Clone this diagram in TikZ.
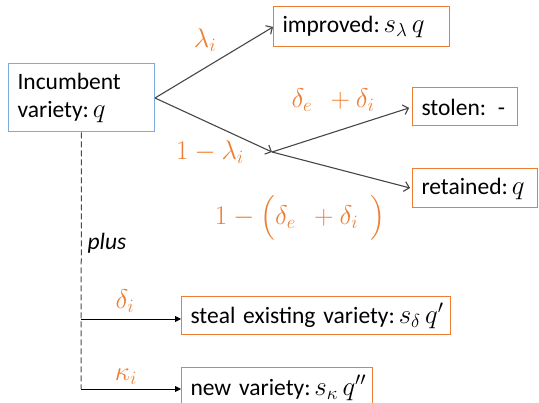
\RequirePackage{fix-cm}
\documentclass[tikz,border=0pt]{standalone}
\usepackage{amsmath}
\usepackage{fontspec}
\setmainfont{Carlito}
\usetikzlibrary{arrows.meta}
\definecolor{boxorange}{RGB}{237,125,49}
\definecolor{boxblue}{RGB}{125,172,220}
\definecolor{arrowgray}{RGB}{70,70,70}
\newcommand{\boxmath}[1]{{\fontsize{27}{32}\selectfont$#1$}}

\begin{document}
\begin{tikzpicture}[x=1pt, y=-1pt,
  font=\fontsize{23.5}{28}\selectfont,
  varbox/.style={draw=boxorange, line width=1pt, rectangle, inner xsep=9pt, inner ysep=0pt, align=left, anchor=west},
  prob/.style={text=boxorange, inner sep=0pt, font=\fontsize{27}{32}\selectfont},
  branch/.style={arrowgray, line width=1.1pt, -{Straight Barb[length=5pt,width=10pt]}},
  newbranch/.style={black, line width=0.9pt, -{Triangle[length=6pt,width=6pt]}}]
  \useasboundingbox (0,0) rectangle (539,403);
  % boxes
  \node[varbox, draw=boxblue, text width=128pt, minimum height=68pt] (inc) at (8,98) {Incumbent\\\mbox{variety:\,\boxmath{q}}};
  \node[varbox, text width=158pt, minimum height=40pt] (imp) at (273,27) {\mbox{improved:\,\boxmath{s_\lambda\,q}}};
  \node[varbox, text width=87pt, minimum height=38pt] (stolen) at (412,107) {\mbox{stolen: -}};
  \node[varbox, text width=107pt, minimum height=39pt] (ret) at (412,188.5) {\mbox{retained:\,\boxmath{q}}};
  \node[varbox, text width=251pt, minimum height=38pt] (steal) at (181,316) {\mbox{steal existing variety:\,\boxmath{s_\delta\,q'}}};
  \node[varbox, text width=173pt, minimum height=40pt] (newv) at (181,388) {\mbox{new variety:\,\boxmath{s_\kappa\,q''}}};
  \coordinate (fork) at (272,152);
  \coordinate (dsteal) at (81,319);
  \coordinate (dnew) at (81,389);
  % connectors
  \draw[branch] (inc.east) -- (imp.west);
  \draw[branch] (inc.east) -- (fork);
  \draw[branch, shorten >=3pt] (fork) -- (stolen.west);
  \draw[branch, shorten >=2pt] (fork) -- (ret.west);
  \draw[gray!60!black, line width=1pt, dash pattern=on 6pt off 3pt] (inc.south) -- (dnew);
  \draw[newbranch] (dsteal) -- (dsteal -| steal.west);
  \draw[newbranch] (dnew) -- (dnew -| newv.west);
  % probabilities
  \node[prob] (lam) at (205,40) {$\lambda_i$};
  \node[prob] (nlam) at (210,152) {$1-\lambda_i$};
  \node[prob] (del) at (333,100) {$\delta_e\ \ +\delta_i$};
  \node[prob] (ndel) at (300,218) {$1-\left(\vrule height 26pt depth 13pt width 0pt\delta_e\ \ +\delta_i\ \ \right)$};
  \node[inner sep=0pt] (plus) at (107,243) {\textit{plus}};
  \node[prob] (deli) at (125,301) {$\delta_i$};
  \node[prob] (kap) at (126,377) {$\kappa_i$};
\end{tikzpicture}
\end{document}
